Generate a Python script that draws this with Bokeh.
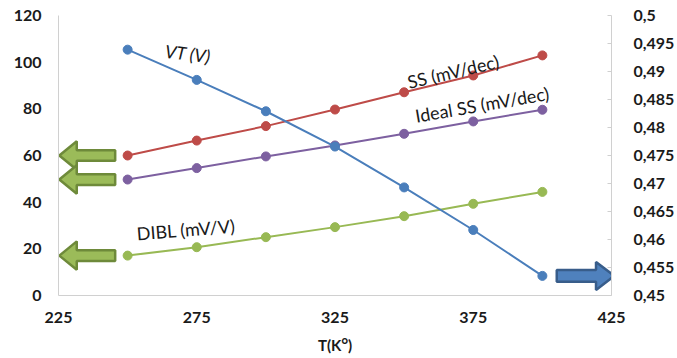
from bokeh.plotting import figure
from bokeh.models import Range1d, LinearAxis, FixedTicker
from bokeh.core.properties import value
from bokeh.embed import file_html
from bokeh.resources import INLINE

# ---- data ----
temps = [250, 275, 300, 325, 350, 375, 400]
ss = [60.0, 66.4, 72.6, 79.7, 87.1, 94.3, 102.9]
ideal_ss = [49.7, 54.6, 59.6, 64.3, 69.3, 74.6, 79.6]
dibl = [17.1, 20.7, 25.0, 29.3, 34.0, 39.3, 44.4]
vt = [0.4939, 0.4885, 0.4829, 0.4766, 0.4693, 0.4617, 0.4535]

x_ticks = [225, 275, 325, 375, 425]
left_ticks = [0, 20, 40, 60, 80, 100, 120]
right_ticks = [0.45, 0.455, 0.46, 0.465, 0.47, 0.475, 0.48, 0.485, 0.49, 0.495, 0.5]
right_tick_labels = ["0,45", "0,455", "0,46", "0,465", "0,47", "0,475", "0,48",
                     "0,485", "0,49", "0,495", "0,5"]

labels = ["VT (V)", "SS (mV/dec)", "Ideal SS (mV/dec)", "DIBL (mV/V)"]

BLUE = "#4A7EBB"
RED = "#BE4B48"
PURPLE = "#7D60A0"
GREEN = "#98B954"
AXIS = "#D0D0D0"
FONT = "Lato"

p = figure(width=677, height=358, output_backend="svg", toolbar_location=None,
           x_range=Range1d(225, 425), y_range=Range1d(0, 120),
           min_border_left=58, min_border_right=64, min_border_top=15,
           min_border_bottom=63)
p.extra_y_ranges = {"right": Range1d(0.45, 0.5)}
p.outline_line_color = None
p.xgrid.visible = False
p.ygrid.visible = False
p.background_fill_color = "white"
p.border_fill_color = "white"

# bottom axis
xa = p.xaxis[0]
xa.ticker = FixedTicker(ticks=x_ticks)
xa.axis_line_color = AXIS
xa.major_tick_line_color = None
xa.minor_tick_line_color = None
xa.major_tick_out = 0
xa.major_label_standoff = 16
xa.major_label_text_font = FONT
xa.major_label_text_font_style = "bold"
xa.major_label_text_font_size = "16px"
xa.major_label_text_color = "#1a1a1a"
xa.axis_label = "T(Kᴼ)"
xa.axis_label_text_font = FONT
xa.axis_label_text_font_style = "bold"
xa.axis_label_text_font_size = "15px"
xa.axis_label_text_color = "#1a1a1a"
xa.axis_label_standoff = 10

# left axis
ya = p.yaxis[0]
ya.ticker = FixedTicker(ticks=left_ticks)
ya.axis_line_color = AXIS
ya.major_tick_line_color = None
ya.minor_tick_line_color = None
ya.major_tick_out = 0
ya.major_label_standoff = 17
ya.major_label_text_font = FONT
ya.major_label_text_font_style = "bold"
ya.major_label_text_font_size = "16px"
ya.major_label_text_color = "#1a1a1a"

# right axis
ra = LinearAxis(y_range_name="right",
                ticker=FixedTicker(ticks=right_ticks),
                major_label_overrides={t: l for t, l in zip(right_ticks, right_tick_labels)})
ra.axis_line_color = AXIS
ra.major_tick_line_color = AXIS
ra.minor_tick_line_color = None
ra.major_tick_in = 4
ra.major_tick_out = 0
ra.major_label_standoff = 22
ra.major_label_text_font = FONT
ra.major_label_text_font_style = "bold"
ra.major_label_text_font_size = "16px"
ra.major_label_text_color = "#1a1a1a"
p.add_layout(ra, "right")

# series
for ys, col in [(ss, RED), (ideal_ss, PURPLE), (dibl, GREEN)]:
    p.line(temps, ys, line_color=col, line_width=2)
    p.scatter(temps, ys, size=9, fill_color=col, line_color=col)
p.line(temps, vt, line_color=BLUE, line_width=2, y_range_name="right")
p.scatter(temps, vt, size=9, fill_color=BLUE, line_color=BLUE, y_range_name="right")

# block arrows (derived from first / last series values)
def left_arrow(x0, y0, L, hl, hh, sh):
    xs = [x0, x0 + hl, x0 + hl, x0 + L, x0 + L, x0 + hl, x0 + hl]
    ys = [y0, y0 + hh, y0 + sh, y0 + sh, y0 - sh, y0 - sh, y0 - hh]
    return xs, ys

def right_arrow(x0, y0, L, hl, hh, sh):
    xs = [x0, x0 + L - hl, x0 + L - hl, x0 + L, x0 + L - hl, x0 + L - hl, x0]
    ys = [y0 + sh, y0 + sh, y0 + hh, y0, y0 - hh, y0 - sh, y0 - sh]
    return xs, ys

axs, ays = [], []
for s in (ss, ideal_ss, dibl):
    ax, ay = left_arrow(p.x_range.start + 0.3, s[0], 20.2, 6.3, 6.1, 2.3)
    axs.append(ax)
    ays.append(ay)
p.patches(axs, ays, fill_color="#9BBB59", line_color="#6E8A3A", line_width=2.5)

bx, by = right_arrow(temps[-1] + 5.2, vt[-1], 20.8, 6.6, 0.0025, 0.00105)
p.patch(bx, by, fill_color="#4F81BD", line_color="#385D8A", line_width=2.5,
        y_range_name="right")

# series labels
lab_x = [271.8, 367.7, 378.2, 271.1]
lab_y = [103.7, 96.0, 81.9, 28.3]
lab_angle = [-0.12, 0.23, 0.17, 0.08]
lab_style = ["italic", "normal", "normal", "normal"]
for t, x, y, a, st in zip(labels, lab_x, lab_y, lab_angle, lab_style):
    p.text([x], [y], text=[t], angle=a, text_align="center", text_baseline="middle",
           text_font=value(FONT), text_font_size="18px", text_font_style=st,
           text_color="#1a1a1a")

open("out.html", "w").write(file_html(p, INLINE))
